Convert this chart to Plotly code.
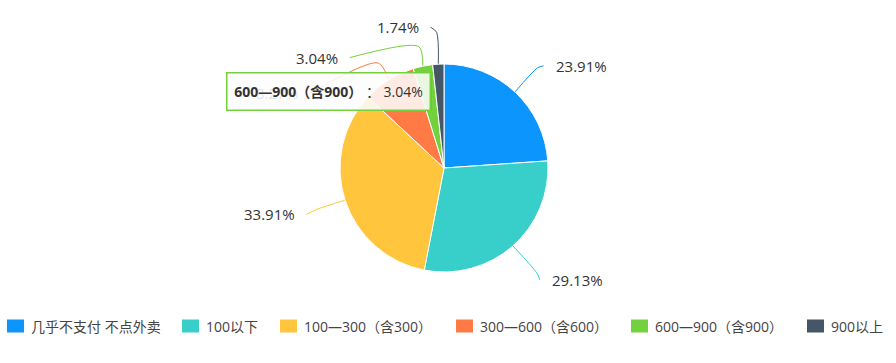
import math
import plotly.graph_objects as go

# ---------------- data ----------------
labels = ["几乎不支付 不点外卖", "100以下", "100—300（含300）",
          "300—600（含600）", "600—900（含900）", "900以上"]
values = [23.91, 29.13, 33.91, 8.27, 3.04, 1.74]
colors = ["#0b95fd", "#38cfca", "#ffc53d", "#ff7a45", "#73d13d", "#455667"]
tooltip_index = 4  # hovered slice shown in the tooltip

# label-line layout per slice (radial length, horizontal length, vertical shift), px
line_len1 = [33, 36, 30, 20, 20, 32]
line_len2 = [6, 3, 10, 68, 69, 6]
line_dy = [-2, 7, 5, 30, 11, -5]
# legend item left edges, px
legend_x = [7, 182, 280, 456, 631, 807]

# ---------------- geometry ----------------
W, H = 896, 363
CX, CY, R = 444, 168, 104
GAP = 10
LEG_Y = 326
FONT = "Open Sans, Noto Sans CJK SC, sans-serif"

fig = go.Figure()
fig.add_trace(go.Pie(
    labels=labels, values=values, sort=False, direction="clockwise", rotation=0,
    marker=dict(colors=colors, line=dict(color="white", width=1)),
    textinfo="none", hoverinfo="skip", showlegend=False,
    domain=dict(x=[(CX - R) / W, (CX + R) / W], y=[(H - CY - R) / H, (H - CY + R) / H]),
))

total = sum(values)
annotations = []
shapes = []
cum = 0.0
for i, v in enumerate(values):
    mid = (cum + v / 2) / total * 2 * math.pi
    cum += v
    sx, sy = math.sin(mid), -math.cos(mid)
    side = 1 if sx > 0 else -1
    p0 = (CX + R * sx, CY + R * sy)
    p1 = (CX + (R + line_len1[i]) * sx, CY + (R + line_len1[i]) * sy)
    p2 = (p1[0] + side * line_len2[i], p1[1] + line_dy[i])
    fig.add_trace(go.Scatter(
        x=[p0[0], p1[0], p2[0]], y=[p0[1], p1[1], p2[1]], mode="lines",
        line=dict(color=colors[i], width=1, shape="spline", smoothing=0.8),
        hoverinfo="skip", showlegend=False,
    ))
    annotations.append(dict(
        x=p2[0] + side * GAP, y=p2[1], xref="x", yref="y",
        text=f"{v:.2f}%", showarrow=False,
        xanchor="left" if side > 0 else "right", yanchor="middle",
        font=dict(family=FONT, size=15, color="#333333"),
    ))

# legend (drawn as swatches + labels)
for i, name in enumerate(labels):
    x0 = legend_x[i]
    shapes.append(dict(type="rect", xref="x", yref="y", x0=x0, x1=x0 + 17,
                       y0=LEG_Y - 6.5, y1=LEG_Y + 6.5, fillcolor=colors[i], line=dict(width=0)))
    annotations.append(dict(
        x=x0 + 22, y=LEG_Y, xref="x", yref="y", text=name, showarrow=False,
        xanchor="left", yanchor="middle",
        font=dict(family=FONT, size=14, color="#444444"),
    ))

# tooltip (soft shadow + box)
shapes.append(dict(type="rect", xref="x", yref="y", x0=227, x1=432, y0=75, y1=111,
                   fillcolor="rgba(0,0,0,0.05)", line=dict(width=0), layer="above"))
annotations.append(dict(
    x=328, y=91.5, xref="x", yref="y", showarrow=False,
    text=f"<b>{labels[tooltip_index]}</b> ： {values[tooltip_index]:.2f}%",
    font=dict(family=FONT, size=14, color="#333333"),
    bgcolor="rgba(255,255,255,0.86)", bordercolor=colors[tooltip_index], borderwidth=1.5,
    width=200, height=34, align="center", xanchor="center", yanchor="middle",
))

fig.update_layout(
    width=W, height=H, margin=dict(l=0, r=0, t=0, b=0),
    paper_bgcolor="white", plot_bgcolor="white",
    xaxis=dict(range=[0, W], visible=False, fixedrange=True),
    yaxis=dict(range=[H, 0], visible=False, fixedrange=True),
    annotations=annotations, shapes=shapes,
    showlegend=False,
)

fig.write_html("out.html", config={"displayModeBar": False},
               post_script="document.body.style.margin='0px';")
